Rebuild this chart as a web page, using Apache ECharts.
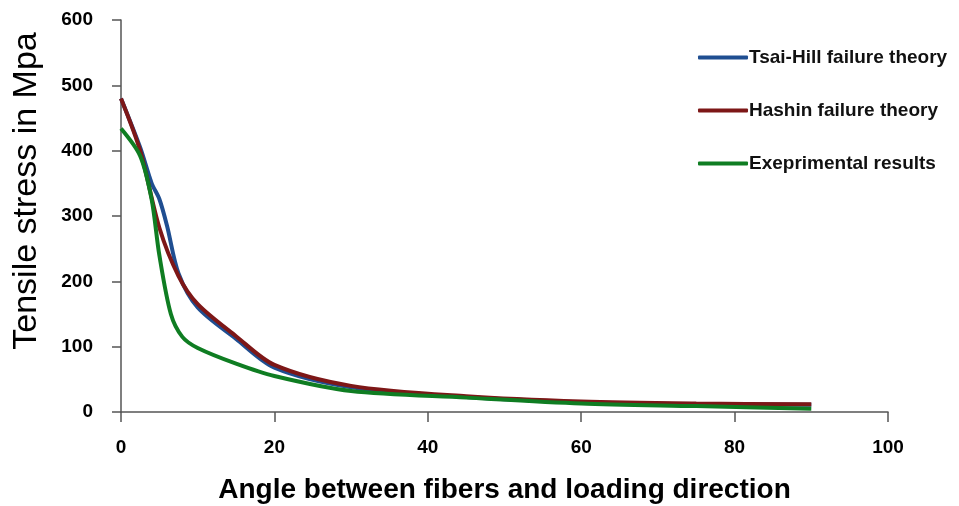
<!DOCTYPE html>
<html>
<head>
<meta charset="utf-8">
<script src="https://cdn.jsdelivr.net/npm/echarts@6/dist/echarts.min.js"></script>
<style>
  html, body { margin: 0; padding: 0; background: #fff; }
  #chart { width: 959px; height: 506px; }
</style>
</head>
<body>
<div id="chart"></div>
<script>
// angle between fibers and loading direction (deg)
const tsaiAngles = [0, 2.5, 4, 5, 6, 7.5, 10, 15, 20, 30, 45, 60, 75, 90]
const tsaiHill = [480, 405, 350, 326, 285, 212, 160, 112, 68, 38, 23, 15, 12, 11]

const hashinAngles = [0, 2.5, 5, 7.5, 10, 15, 20, 30, 45, 60, 75, 90]
const hashin = [480, 400, 282, 208, 165, 116, 72, 40, 24, 16, 13, 12]

const expAngles = [0, 2.5, 4, 5, 6.5, 8, 10, 15, 20, 30, 45, 60, 75, 90]
const experimental = [434, 392, 325, 240, 150, 115, 98, 74, 55, 32, 22, 13, 9, 5]

const seriesNames = ['Tsai-Hill failure theory', 'Hashin failure theory', 'Exeprimental results']
const colors = ['#1f4e91', '#7d1717', '#0f7d22']

function pairs (xs, ys) {
  return xs.map((x, i) => [x, ys[i]])
}

const chart = echarts.init(document.getElementById('chart'))
const font = 'Liberation Sans, Arial, sans-serif'

const option = {
  animation: false,
  color: colors,
  grid: { left: 121, right: 71, top: 20, bottom: 94, outerBoundsMode: 'none' },
  legend: {
    orient: 'vertical',
    left: 693,
    top: 43,
    icon: 'roundRect',
    itemWidth: 50,
    itemHeight: 4,
    itemGap: 34,
    data: seriesNames,
    textStyle: { fontFamily: font, fontWeight: 'bold', fontSize: 19, color: '#111', padding: [0, 0, 0, -4] }
  },
  xAxis: {
    type: 'value',
    min: 0,
    max: 100,
    interval: 20,
    name: 'Angle between fibers and loading direction',
    nameLocation: 'middle',
    nameGap: 64,
    nameTextStyle: { fontFamily: font, fontWeight: 'bold', fontSize: 28, color: '#000' },
    axisLine: { show: true, lineStyle: { color: '#555', width: 1.5 } },
    axisTick: { show: true, length: 10, lineStyle: { color: '#555', width: 1.5 } },
    axisLabel: { fontFamily: font, fontWeight: 'bold', fontSize: 19, color: '#000', margin: 26 },
    splitLine: { show: false }
  },
  yAxis: {
    type: 'value',
    min: 0,
    max: 600,
    interval: 100,
    name: 'Tensile stress in Mpa',
    nameLocation: 'middle',
    nameGap: 77,
    nameTextStyle: { fontFamily: font, fontSize: 34, color: '#000', padding: [0, 0, 0, 50] },
    axisLine: { show: true, lineStyle: { color: '#555', width: 1.5 } },
    axisTick: { show: true, length: 9, lineStyle: { color: '#555', width: 1.5 } },
    axisLabel: { fontFamily: font, fontWeight: 'bold', fontSize: 19, color: '#000', margin: 28 },
    splitLine: { show: false }
  },
  series: [
    {
      name: seriesNames[0],
      type: 'line',
      data: pairs(tsaiAngles, tsaiHill),
      smooth: 0.3,
      symbol: 'none',
      lineStyle: { width: 4 }
    },
    {
      name: seriesNames[1],
      type: 'line',
      data: pairs(hashinAngles, hashin),
      smooth: 0.3,
      symbol: 'none',
      lineStyle: { width: 4 }
    },
    {
      name: seriesNames[2],
      type: 'line',
      data: pairs(expAngles, experimental),
      smooth: 0.3,
      symbol: 'none',
      lineStyle: { width: 4 }
    }
  ]
}

chart.setOption(option)
</script>
</body>
</html>
